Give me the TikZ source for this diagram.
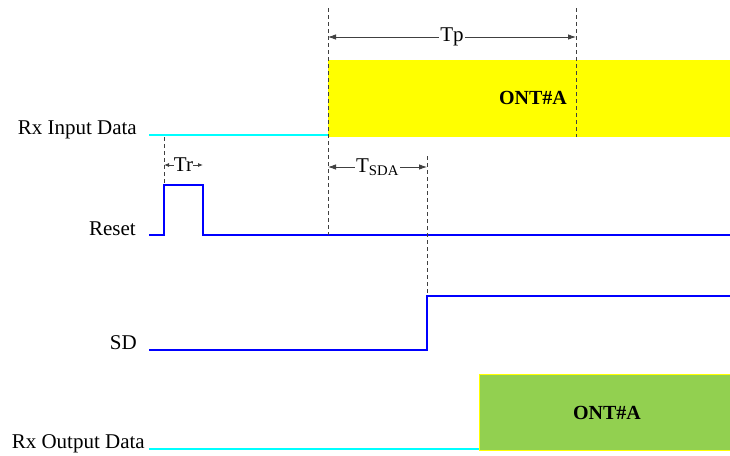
\documentclass[tikz,border=0pt]{standalone}
\usepackage{fontspec}
\setmainfont{Liberation Serif}
\usetikzlibrary{arrows.meta}
\definecolor{sigblue}{RGB}{0,0,255}
\definecolor{sigcyan}{RGB}{0,255,255}
\definecolor{ontyellow}{RGB}{255,255,0}
\definecolor{ontgreen}{RGB}{146,208,80}
\begin{document}
\begin{tikzpicture}[x=1pt, y=-1pt,
  sig/.style={draw=sigblue, line width=1.6pt},
  idle/.style={draw=sigcyan, line width=1.6pt},
  guide/.style={draw=black!75, dash pattern=on 4pt off 3pt, line width=0.8pt},
  span/.style={draw=black!75, line width=0.8pt, {Latex[length=8pt,width=5.5pt]}-{Latex[length=8pt,width=5.5pt]}},
  lbl/.style={font=\fontsize{21}{24}\selectfont, anchor=base east, inner sep=0pt},
  spanlbl/.style={font=\fontsize{21}{24}\selectfont, fill=white, inner sep=1pt},
  ont/.style={font=\fontsize{20}{23}\selectfont\bfseries}]
      \useasboundingbox (0,0) rectangle (730,455);

      % signal names
      \node[lbl] (rxin) at (137,134) {Rx Input Data};
      \node[lbl] (rst) at (136,235) {Reset};
      \node[lbl] (sd) at (137,349) {SD};
      \node[lbl] (rxout) at (145,448) {Rx Output Data};

      % data bursts
      \fill[ontyellow] (328,60) rectangle (730,137);
      \node[ont] (onta) at (533,98) {ONT\#A};
      \draw[fill=ontgreen, draw=ontyellow, line width=0.6pt] (479,374) rectangle (730,450);
      \node[ont] (ontb) at (607,413) {ONT\#A};

      % waveforms
      \draw[idle] (149,135) -- (328,135);
      \draw[sig] (149,235) -- (164,235) -- (164,185) -- (203,185) -- (203,235) -- (730,235);
      \draw[sig] (149,350) -- (427,350) -- (427,296) -- (730,296);
      \draw[idle] (149,449) -- (479,449);

      % timing marks
      \coordinate (tpa) at (328,37);
      \coordinate (tpb) at (576,37);
      \coordinate (tra) at (164,165);
      \coordinate (trb) at (203,165);
      \coordinate (sda) at (328,167);
      \coordinate (sdb) at (427,167);
      \draw[guide] (328,8) -- (328,235);
      \draw[guide] (576,8) -- (576,137);
      \draw[guide] (164,137) -- (164,185);
      \draw[guide] (427,156) -- (427,296);

      \draw[span] (tpa) -- (tpb) node[spanlbl, midway] {Tp};
      \draw[span, {Latex[length=5pt,width=4pt]}-{Latex[length=5pt,width=4pt]}] (tra) -- (trb) node[spanlbl, midway, inner sep=0pt] {Tr};
      \draw[span] (sda) -- (sdb) node[spanlbl, midway] {T\textsubscript{SDA}};
    \end{tikzpicture}
\end{document}
